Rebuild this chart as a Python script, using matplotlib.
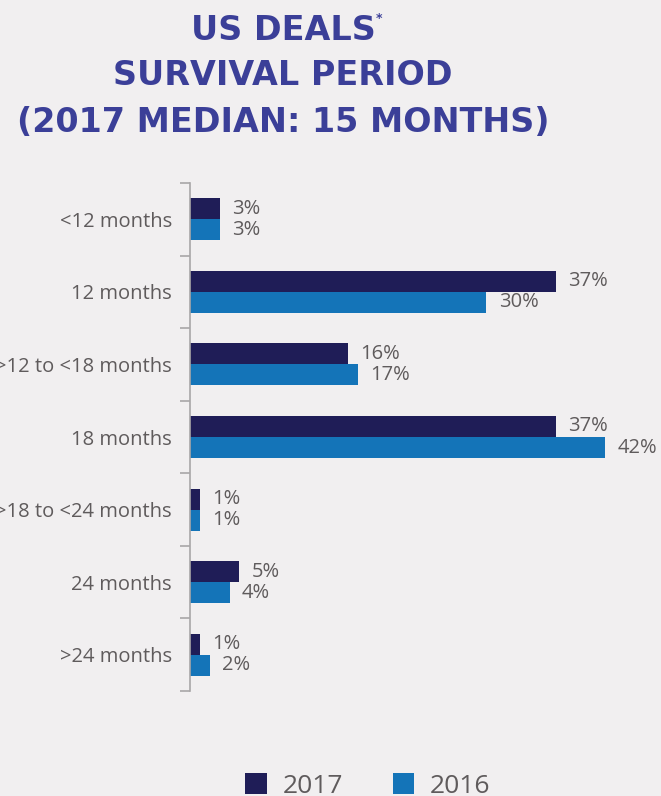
import matplotlib
matplotlib.use("Agg")
import matplotlib.pyplot as plt
import numpy as np

categories = ["<12 months", "12 months", ">12 to <18 months", "18 months",
              ">18 to <24 months", "24 months", ">24 months"]
vals_2017 = [3, 37, 16, 37, 1, 5, 1]
vals_2016 = [3, 30, 17, 42, 1, 4, 2]
series_names = ["2017", "2016"]

bg = "#f1eff0"
c2017 = "#1f1d57"
c2016 = "#1474b8"
title_col = "#3b3f98"
text_col = "#5f5b5c"
grey = "#a8a6a7"

plt.rcParams["font.family"] = ["Open Sans", "DejaVu Sans"]

W, H = 661, 796
fig = plt.figure(figsize=(W / 100, H / 100), dpi=100, facecolor=bg)
# axes placed in pixel terms: x 190..650, y 183..691
ax = fig.add_axes([190 / W, 1 - 691 / H, 460 / W, (691 - 183) / H])
ax.set_facecolor(bg)

y = np.arange(len(categories))
h = 0.29
b1 = ax.barh(y - h / 2, vals_2017, height=h, color=c2017, label=series_names[0])
b2 = ax.barh(y + h / 2, vals_2016, height=h, color=c2016, label=series_names[1])
for bars in (b1, b2):
    ax.bar_label(bars, labels=[f"{v}%" for v in bars.datavalues],
                 padding=9, fontsize=14.5, color=text_col)

ax.set_xlim(0, 460 / 9.88)
ax.set_ylim(len(categories) - 0.5, -0.5)
ax.set_xticks([])

# boundary ticks (major) and labels at category centres (minor)
ax.set_yticks(np.arange(-0.5, len(categories) + 0.5, 1))
ax.set_yticklabels([])
ax.set_yticks(y, minor=True)
ax.set_yticklabels(categories, minor=True, fontsize=14.5, color=text_col)
ax.tick_params(axis="y", which="major", length=7.5, width=1.2, color=grey)
ax.tick_params(axis="y", which="minor", length=0, pad=13)

for s in ["top", "right", "bottom"]:
    ax.spines[s].set_visible(False)
ax.spines["left"].set_color(grey)
ax.spines["left"].set_linewidth(1.2)

# title
tx = 283 / W
tfs = 24
fig.text(tx, 1 - 40 / H, "US DEALS", ha="center", va="baseline",
         fontsize=tfs, fontweight="bold", color=title_col, family="DejaVu Sans")
fig.text(376 / W, 1 - 22 / H, "*", ha="left", va="baseline",
         fontsize=9, fontweight="bold", color=title_col, family="DejaVu Sans")
fig.text(tx, 1 - 85 / H, "SURVIVAL PERIOD", ha="center", va="baseline",
         fontsize=tfs, fontweight="bold", color=title_col, family="DejaVu Sans")
fig.text(tx, 1 - 132 / H, "(2017 MEDIAN: 15 MONTHS)", ha="center", va="baseline",
         fontsize=tfs, fontweight="bold", color=title_col, family="DejaVu Sans")

leg = fig.legend(loc="center", bbox_to_anchor=(368 / W, 1 - 786 / H), ncol=2,
                 frameon=False, fontsize=19, handlelength=0.8, handleheight=0.8,
                 handletextpad=0.6, columnspacing=1.9)
for t in leg.get_texts():
    t.set_color(text_col)

fig.savefig("out.png", dpi=100, facecolor=bg)
